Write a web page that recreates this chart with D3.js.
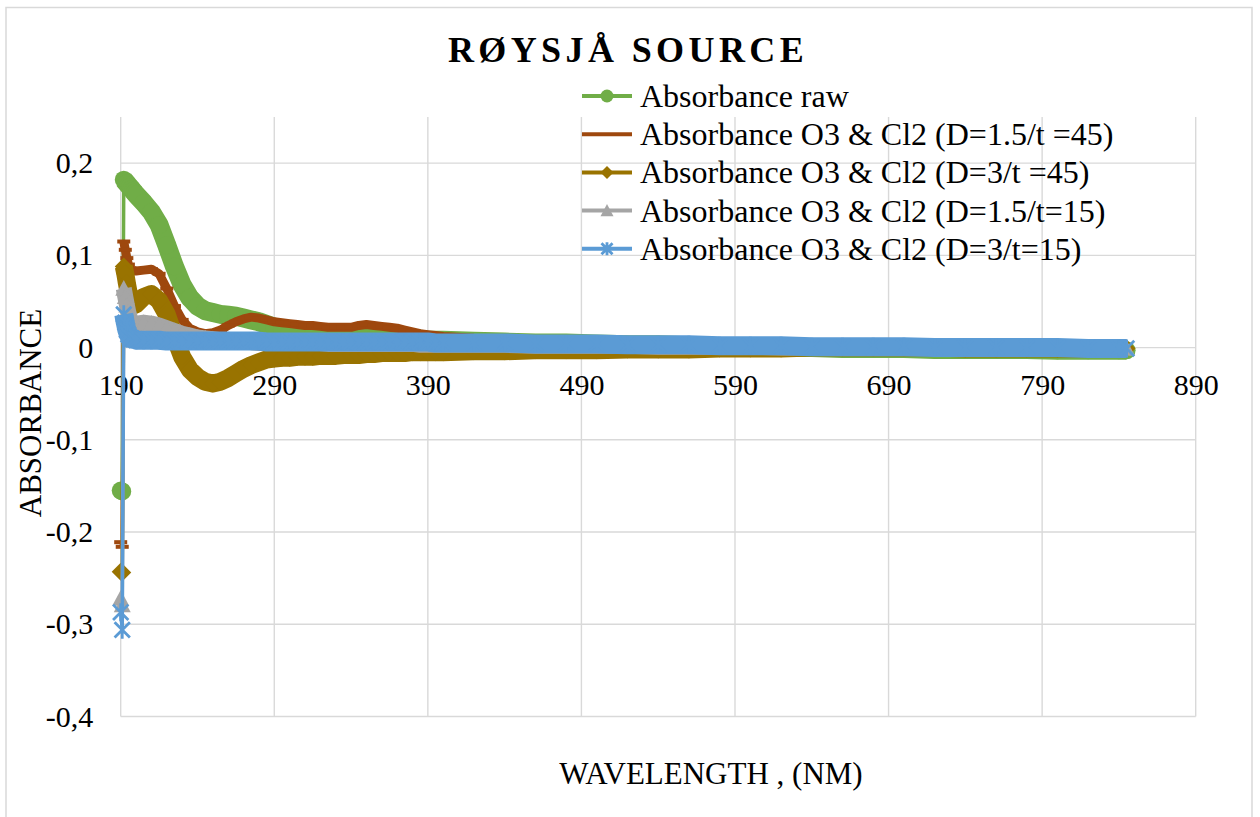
<!DOCTYPE html>
<html>
<head>
<meta charset="utf-8">
<script src="https://cdn.jsdelivr.net/npm/d3@7"></script>
<style>
  html, body { margin: 0; padding: 0; background: #fff; }
  svg { display: block; font-family: "Liberation Serif", "Times New Roman", serif; }
</style>
</head>
<body>
<svg id="chart" width="1260" height="817"></svg>
<script>
// Wavelength readings (nm)
const wavelength = [
  190,191,192,193,194,195,196,197,198,199,200,
  205,210,215,220,225,230,235,240,245,250,
  255,260,265,270,275,280,285,290,295,300,
  305,310,315,320,325,330,335,340,345,350,
  355,360,365,370,375,380,385,390,395,400,
  420,440,460,480,500,520,540,560,580,600,
  620,640,660,680,700,720,740,760,780,800,
  820,840,845
];

// Absorbance, raw water
const absRaw = [
  -0.155,-0.156,0.182,0.180,0.178,0.176,0.174,0.172,0.170,0.168,0.166,
  0.157,0.147,0.133,0.111,0.088,0.068,0.054,0.045,0.040,0.038,
  0.036,0.035,0.034,0.032,0.030,0.028,0.025,0.022,0.019,0.017,
  0.015,0.014,0.013,0.013,0.012,0.012,0.012,0.011,0.011,0.011,
  0.010,0.010,0.010,0.009,0.009,0.009,0.009,0.008,0.008,0.008,
  0.007,0.006,0.005,0.005,0.004,0.003,0.003,0.002,0.001,0.001,
  0.000,0.000,-0.001,-0.001,-0.001,-0.002,-0.002,-0.002,-0.002,-0.003,
  -0.003,-0.003,-0.003
];

// Absorbance after O3 & Cl2, D=1.5 / t=45
const absD15t45 = [
  -0.211,-0.216,0.115,0.106,0.097,0.090,0.086,0.084,0.083,0.083,0.083,
  0.084,0.085,0.080,0.064,0.045,0.030,0.021,0.017,0.015,0.016,
  0.019,0.024,0.028,0.031,0.033,0.032,0.030,0.028,0.027,0.026,
  0.025,0.024,0.024,0.023,0.022,0.022,0.022,0.022,0.024,0.025,
  0.024,0.023,0.022,0.021,0.019,0.017,0.015,0.014,0.013,0.012,
  0.010,0.009,0.008,0.007,0.006,0.005,0.005,0.004,0.003,0.003,
  0.002,0.002,0.001,0.001,0.001,0.000,0.000,0.000,0.000,-0.001,
  -0.001,-0.001,-0.001
];

// Absorbance after O3 & Cl2, D=3 / t=45
const absD3t45 = [
  -0.243,-0.244,0.088,0.080,0.070,0.061,0.053,0.048,0.046,0.046,0.047,
  0.055,0.058,0.051,0.036,0.012,-0.010,-0.024,-0.032,-0.037,-0.039,
  -0.037,-0.033,-0.028,-0.023,-0.019,-0.016,-0.013,-0.012,-0.011,-0.011,
  -0.010,-0.010,-0.010,-0.009,-0.009,-0.009,-0.008,-0.008,-0.008,-0.007,
  -0.007,-0.006,-0.006,-0.006,-0.006,-0.005,-0.005,-0.005,-0.005,-0.005,
  -0.004,-0.004,-0.003,-0.003,-0.003,-0.002,-0.002,-0.002,-0.001,-0.001,
  -0.001,0.000,0.000,0.000,0.000,0.000,-0.001,-0.001,-0.001,-0.001,
  -0.001,-0.001,-0.001
];

// Absorbance after O3 & Cl2, D=1.5 / t=15
const absD15t15 = [
  -0.272,-0.279,0.064,0.055,0.046,0.038,0.032,0.029,0.027,0.026,0.026,
  0.027,0.026,0.024,0.021,0.018,0.015,0.013,0.011,0.010,0.009,
  0.008,0.007,0.007,0.006,0.006,0.005,0.005,0.005,0.005,0.005,
  0.005,0.005,0.005,0.005,0.004,0.004,0.004,0.004,0.004,0.004,
  0.004,0.004,0.004,0.004,0.004,0.004,0.003,0.003,0.003,0.003,
  0.003,0.003,0.002,0.002,0.002,0.002,0.001,0.001,0.001,0.001,
  0.000,0.000,0.000,0.000,0.000,0.000,-0.001,-0.001,-0.001,-0.001,
  -0.001,-0.001,-0.001
];

// Absorbance after O3 & Cl2, D=3 / t=15
const absD3t15 = [
  -0.287,-0.306,0.036,0.027,0.019,0.014,0.011,0.010,0.009,0.009,0.008,
  0.008,0.008,0.008,0.007,0.007,0.007,0.007,0.007,0.007,0.007,
  0.007,0.007,0.007,0.007,0.007,0.007,0.006,0.006,0.006,0.006,
  0.006,0.006,0.006,0.006,0.006,0.006,0.006,0.006,0.006,0.006,
  0.006,0.006,0.006,0.006,0.006,0.006,0.006,0.006,0.005,0.005,
  0.005,0.005,0.004,0.004,0.004,0.003,0.003,0.003,0.002,0.002,
  0.002,0.001,0.001,0.001,0.001,0.000,0.000,0.000,0.000,0.000,
  -0.001,-0.001,-0.001
];

const seriesNames = [
  "Absorbance raw",
  "Absorbance O3 & Cl2 (D=1.5/t =45)",
  "Absorbance O3 & Cl2 (D=3/t =45)",
  "Absorbance O3 & Cl2 (D=1.5/t=15)",
  "Absorbance O3 & Cl2 (D=3/t=15)"
];
const xTicks = [190, 290, 390, 490, 590, 690, 790, 890];
const yTicks = [-0.4, -0.3, -0.2, -0.1, 0, 0.1, 0.2];

// ---- styling per series ----
const seriesValues = [absRaw, absD15t45, absD3t45, absD15t15, absD3t15];
const seriesStyle = [
  { color: "#70AD47", marker: "circle",   size: 18, trail: 19 },
  { color: "#9E480E", marker: "dash",     size: 13, trail: 9  },
  { color: "#997300", marker: "diamond",  size: 18, trail: 18 },
  { color: "#A5A5A5", marker: "triangle", size: 17, trail: 16 },
  { color: "#5B9BD5", marker: "star",     size: 18, trail: 19 }
];

const svg = d3.select("#chart");
const plot = { left: 120.7, right: 1195.7, top: 117, bottom: 716.5 };

const x = d3.scaleLinear().domain([190, 890]).range([plot.left, plot.right]);
const y = d3.scaleLinear().domain([-0.4, 0.25]).range([plot.bottom, plot.top]);

const GRID = "#d9d9d9";
const SERIF = "'Liberation Serif', 'Times New Roman', serif";

// chart frame
svg.append("rect")
  .attr("x", 6).attr("y", 7.5).attr("width", 1246).attr("height", 840)
  .attr("fill", "none").attr("stroke", GRID).attr("stroke-width", 1.5);

// gridlines
const grid = svg.append("g");
grid.selectAll("line.h").data(yTicks).join("line")
  .attr("x1", plot.left).attr("x2", plot.right)
  .attr("y1", d => y(d)).attr("y2", d => y(d))
  .attr("stroke", GRID).attr("stroke-width", 1.4);
grid.selectAll("line.v").data(xTicks).join("line")
  .attr("x1", d => x(d)).attr("x2", d => x(d))
  .attr("y1", plot.top).attr("y2", plot.bottom)
  .attr("stroke", GRID).attr("stroke-width", 1.4);

// axes (labels only; axis lines coincide with the gridlines)
const fmt = d => d === 0 ? "0" : String(d).replace(".", ",");

const xAxis = svg.append("g")
  .attr("transform", `translate(0,${y(0)})`)
  .call(d3.axisBottom(x).tickValues(xTicks).tickSize(0).tickPadding(26).tickFormat(d => d));
xAxis.select(".domain").remove();
xAxis.selectAll("text").attr("font-size", 30).attr("fill", "#000").style("font-family", SERIF);

const yAxis = svg.append("g")
  .attr("transform", `translate(${plot.left},0)`)
  .call(d3.axisLeft(y).tickValues(yTicks).tickSize(0).tickPadding(27.5).tickFormat(fmt));
yAxis.select(".domain").remove();
yAxis.selectAll("text").attr("font-size", 30).attr("fill", "#000").style("font-family", SERIF);

// marker shapes
function marker(g, type, s, color) {
  const h = s / 2;
  switch (type) {
    case "circle":
      g.append("circle").attr("r", h).attr("fill", color);
      break;
    case "dash":
      g.append("rect").attr("x", -h).attr("y", -2).attr("width", s).attr("height", 4).attr("fill", color);
      break;
    case "diamond":
      g.append("path").attr("d", `M0,${-h}L${h},0L0,${h}L${-h},0Z`).attr("fill", color);
      break;
    case "triangle":
      g.append("path").attr("d", `M0,${-h}L${h},${h * 0.85}L${-h},${h * 0.85}Z`).attr("fill", color);
      break;
    case "star": {
      const k = h * 0.85;
      g.append("path").attr("d", `M0,${-h}V${h}M${-k},${-k}L${k},${k}M${k},${-k}L${-k},${k}`)
        .attr("stroke", color).attr("stroke-width", 2.8).attr("fill", "none");
      break;
    }
  }
}

// series
const line = d3.line().x(d => x(d[0])).y(d => y(d[1]));
const seriesLayer = svg.append("g");

seriesValues.forEach((vals, i) => {
  const st = seriesStyle[i];
  const pts = wavelength.map((w, j) => [w, vals[j]]);
  const g = seriesLayer.append("g");

  // connector through every reading
  g.append("path").attr("d", line(pts))
    .attr("fill", "none").attr("stroke", st.color).attr("stroke-width", 3.5)
    .attr("stroke-linejoin", "round");

  // 1 nm readings overlap into a solid marker trail once the spectrum settles
  // after the two low readings at the start of the scan
  g.append("path").attr("d", line(pts.slice(2)))
    .attr("fill", "none").attr("stroke", st.color).attr("stroke-width", st.trail)
    .attr("stroke-linejoin", "round").attr("stroke-linecap", "butt");

  g.selectAll("g.m").data(pts).join("g")
    .attr("transform", d => `translate(${x(d[0])},${y(d[1])})`)
    .each(function () {
      marker(d3.select(this), st.marker, st.size, st.color);
    });
});

// title
svg.append("text")
  .attr("x", 628).attr("y", 62)
  .attr("text-anchor", "middle")
  .attr("font-size", 36).attr("font-weight", "bold")
  .attr("letter-spacing", 4.4)
  .text("RØYSJÅ SOURCE");

// axis titles
svg.append("text")
  .attr("transform", "translate(41,413) rotate(-90)")
  .attr("text-anchor", "middle").attr("font-size", 31)
  .text("ABSORBANCE");
svg.append("text")
  .attr("x", 711).attr("y", 784)
  .attr("text-anchor", "middle").attr("font-size", 31)
  .text("WAVELENGTH , (NM)");

// legend
const legend = svg.append("g");
seriesNames.forEach((name, i) => {
  const st = seriesStyle[i];
  const ry = 96 + i * 38.2;
  const row = legend.append("g").attr("transform", `translate(0,${ry})`);
  row.append("line").attr("x1", 582).attr("x2", 632).attr("y1", 0).attr("y2", 0)
    .attr("stroke", st.color).attr("stroke-width", 4);
  if (st.marker !== "dash") {
    const m = row.append("g").attr("transform", "translate(607,0)");
    marker(m, st.marker, 13, st.color);
  }
  row.append("text").attr("x", 640).attr("y", 11).attr("font-size", 32).text(name);
});
</script>
</body>
</html>
